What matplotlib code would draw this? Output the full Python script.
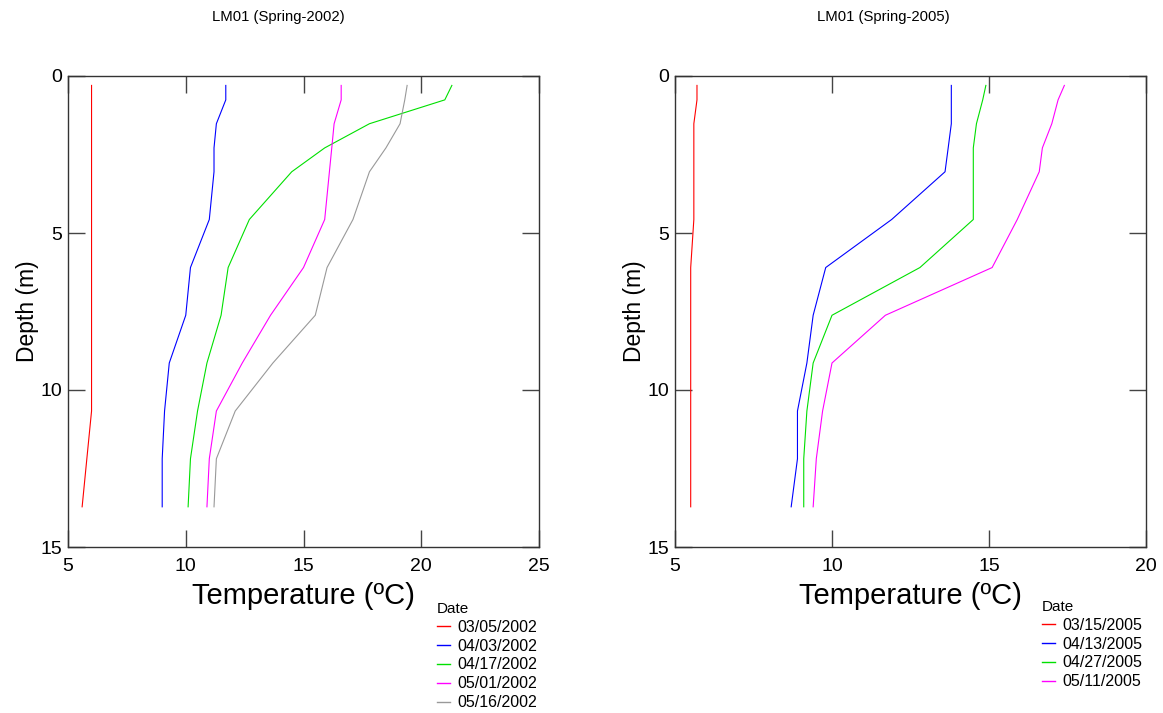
import matplotlib
matplotlib.use("Agg")
import matplotlib.pyplot as plt

plt.rcParams['font.family'] = ['Liberation Sans', 'DejaVu Sans']

# profundidades (m) - ayni derinlikler iki panelde
depth = [0.30, 0.76, 1.52, 2.29, 3.05, 4.57, 6.10, 7.62, 9.14, 10.67, 12.19, 13.72]

# 2002 baharı
dates_2002 = ["03/05/2002", "04/03/2002", "04/17/2002", "05/01/2002", "05/16/2002"]
t_0305_2002 = [6.0, 6.0, 6.0, 6.0, 6.0, 6.0, 6.0, 6.0, 6.0, 6.0, 5.8, 5.6]
t_0403_2002 = [11.7, 11.7, 11.3, 11.2, 11.2, 11.0, 10.2, 10.0, 9.3, 9.1, 9.0, 9.0]
t_0417_2002 = [21.3, 21.0, 17.8, 15.9, 14.5, 12.7, 11.8, 11.5, 10.9, 10.5, 10.2, 10.1]
t_0501_2002 = [16.6, 16.6, 16.3, 16.2, 16.1, 15.9, 15.0, 13.6, 12.4, 11.3, 11.0, 10.9]
t_0516_2002 = [19.4, 19.3, 19.1, 18.5, 17.8, 17.1, 16.0, 15.5, 13.7, 12.1, 11.3, 11.2]

# 2005 baharı
dates_2005 = ["03/15/2005", "04/13/2005", "04/27/2005", "05/11/2005"]
t_0315_2005 = [5.7, 5.7, 5.6, 5.6, 5.6, 5.6, 5.5, 5.5, 5.5, 5.5, 5.5, 5.5]
t_0413_2005 = [13.8, 13.8, 13.8, 13.7, 13.6, 11.9, 9.8, 9.4, 9.2, 8.9, 8.9, 8.7]
t_0427_2005 = [14.9, 14.8, 14.6, 14.5, 14.5, 14.5, 12.8, 10.0, 9.4, 9.2, 9.1, 9.1]
t_0511_2005 = [17.4, 17.2, 17.0, 16.7, 16.6, 15.9, 15.1, 11.7, 10.0, 9.7, 9.5, 9.4]

colors_2002 = ["#ff0000", "#0000ff", "#00e000", "#ff00ff", "#999999"]
colors_2005 = ["#ff0000", "#0000ff", "#00e000", "#ff00ff"]

fig = plt.figure(figsize=(11.63, 7.13), dpi=100)
ax1 = fig.add_axes([68/1163, 1-547/713, 471/1163, 471/713])
ax2 = fig.add_axes([675/1163, 1-547/713, 471/1163, 471/713])


def panel(ax, series, labels, colors, xlim, xticks, legx, legy):
    for t, lab, c in zip(series, labels, colors):
        ax.plot(t, depth, color=c, lw=0.8, label=lab)
    ax.set_xlim(xlim)
    ax.set_ylim(15, 0)
    ax.set_xticks(xticks)
    ax.set_yticks([0, 5, 10, 15])
    ax.tick_params(direction="in", length=12, width=1.0, color="#444444",
                   top=True, right=True, labelsize=14)
    ax.tick_params(axis="x", pad=8)
    ax.tick_params(axis="y", pad=4)
    for s in ax.spines.values():
        s.set_linewidth(1.0)
        s.set_color("#333333")
    ax.set_xlabel("Temperature (ºC)", fontsize=21, labelpad=5)
    ax.set_ylabel("Depth (m)", fontsize=16.5, labelpad=1)
    leg = ax.legend(loc="upper left", bbox_to_anchor=(legx, 1-legy/713),
                    bbox_transform=fig.transFigure, frameon=False,
                    title="Date", fontsize=11.5, title_fontsize=11,
                    handlelength=0.8, handletextpad=0.45, labelspacing=0.24,
                    borderpad=0, alignment="left")
    for h in leg.get_lines():
        h.set_linewidth(1.0)
    return leg


panel(ax1, [t_0305_2002, t_0403_2002, t_0417_2002, t_0501_2002, t_0516_2002],
      dates_2002, colors_2002, (5, 25), [5, 10, 15, 20, 25], 429/1163, 594)
panel(ax2, [t_0315_2005, t_0413_2005, t_0427_2005, t_0511_2005],
      dates_2005, colors_2005, (5, 20), [5, 10, 15, 20], 1034/1163, 592)

fig.text(278/1163, 1-17/713, "LM01 (Spring-2002)", fontsize=10.7, ha="center", va="center")
fig.text(883/1163, 1-17/713, "LM01 (Spring-2005)", fontsize=10.7, ha="center", va="center")

fig.savefig("out.png", dpi=100)
